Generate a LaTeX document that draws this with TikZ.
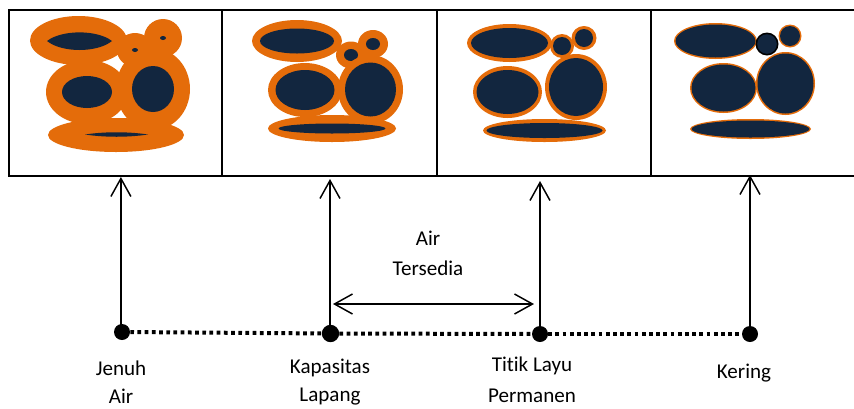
\documentclass[tikz,border=0pt]{standalone}
\usepackage{fontspec}
\setmainfont{Carlito}[Ligatures=NoCommon]
\usetikzlibrary{arrows.meta}
\definecolor{waterfilm}{HTML}{E46C0A}
\definecolor{soilgrain}{HTML}{12263F}
% cx, cy, outer rx, outer ry, inner rx, inner ry; optional colour of the film
\newcommand{\poregrain}[7][waterfilm]{%
  \fill[#1] (#2,#3) ellipse [x radius=#4, y radius=#5];
  \fill[soilgrain] (#2,#3) ellipse [x radius=#6, y radius=#7];
}
\tikzset{
  panelbox/.style={draw=black, line width=1.5pt, fill=none},
  statedot/.style={circle, fill=black, inner sep=0pt, minimum size=12pt},
  risearrow/.style={draw=black, line width=1.2pt, -{Straight Barb[length=13.5pt, width=15pt, line width=1.1pt]}},
  spanarrow/.style={draw=black, line width=1.2pt, {Straight Barb[length=13.5pt, width=15pt, line width=1.1pt]}-{Straight Barb[length=13.5pt, width=15pt, line width=1.1pt]}},
  dotline/.style={draw=black, line width=3pt, dash pattern=on 2.8pt off 2.6pt},
  caption/.style={font=\fontsize{15.8pt}{18pt}\selectfont, inner sep=0pt, align=center, text=black},
}
\begin{document}
\begin{tikzpicture}[x=0.75pt, y=-0.75pt]
\useasboundingbox (0,0) rectangle (854,408);
\clip (0,0) rectangle (854,408);

% Saturated: thick water films around the grains
\poregrain{135}{50}{18}{17}{3}{2}
\poregrain{163}{38}{19}{19}{3}{2}
\poregrain{87}{92}{41}{32}{25}{16}
\poregrain{153}{89}{37}{41}{21}{23}
\fill[waterfilm] (78.5,40.5) ellipse [x radius=48.5, y radius=24.5];
\fill[soilgrain] (47,41) .. controls (62,29.5) and (97,29.5) .. (112,41) .. controls (97,53) and (62,53) .. (47,41) -- cycle;
\fill[waterfilm] (116,135) ellipse [x radius=68, y radius=17];
\fill[soilgrain] (85,134.5) .. controls (105,131.5) and (128,131.5) .. (148,134.5) .. controls (128,137.5) and (105,137.5) .. (85,134.5) -- cycle;

% Field capacity
\poregrain{351}{55}{15}{13.5}{7}{6}
\poregrain{373}{44}{15}{14}{7}{6}
\poregrain{297}{41}{45}{21}{37}{12.5}
\poregrain{305}{90}{37}{27}{29.5}{20}
\poregrain{370.5}{89.5}{32.5}{34.5}{25.5}{27}
\poregrain{332}{128.5}{64}{13.5}{53.5}{5}

% Permanent wilting point
\poregrain{562}{46}{12}{12}{9}{9}
\poregrain{584}{38}{12.5}{12}{9}{9}
\poregrain{509.5}{43}{42.5}{19}{38.5}{15}
\poregrain{507.5}{92}{34.5}{26}{31}{22}
\poregrain{576}{87}{31}{33}{27}{29}
\poregrain{544.5}{130.5}{61.5}{11.5}{58}{7.5}

% Dry: only a trace of film remains
\poregrain{715.5}{41}{41.5}{18}{40}{16.5}
\poregrain{723.5}{88}{33.5}{25}{32}{23.5}
\poregrain{785.5}{83.5}{29.5}{31.5}{28}{30}
\poregrain{750.5}{129}{60.5}{10}{59}{8.5}
\poregrain{790}{36}{11.5}{11.5}{10}{10}
\poregrain[black]{767}{44}{11.5}{11.5}{9.8}{9.8}

% Panel frames
\draw[panelbox] (8.5,9.5) rectangle (222,175.5);
\draw[panelbox] (222,9.5) rectangle (437,175.5);
\draw[panelbox] (437,9.5) rectangle (651,175.5);
\draw[panelbox] (651,9.5) rectangle (860,175.5);

% Moisture states along the axis
\node[statedot] (jenuh) at (122,332) {};
\node[statedot, minimum size=13pt] (kapasitas) at (330.5,333.5) {};
\node[statedot] (layu) at (540,334) {};
\node[statedot] (kering) at (750,334) {};

\draw[dotline] (jenuh) -- (kapasitas);
\draw[dotline] (kapasitas) -- (layu);
\draw[dotline] (layu) -- (kering);

\coordinate (tipjenuh) at (120.9,177);
\coordinate (basejenuh) at (120.9,332);
\coordinate (tipkapasitas) at (330,179);
\coordinate (basekapasitas) at (330,333);
\coordinate (tiplayu) at (540,181);
\coordinate (baselayu) at (540,334);
\coordinate (tipkering) at (750,175);
\coordinate (basekering) at (750,334);
\draw[risearrow] (basejenuh) -- (tipjenuh);
\draw[risearrow] (basekapasitas) -- (tipkapasitas);
\draw[risearrow] (baselayu) -- (tiplayu);
\draw[risearrow] (basekering) -- (tipkering);

\coordinate (spanleft) at (333,304);
\coordinate (spanright) at (534,304);
\draw[spanarrow] (spanleft) -- (spanright);

% Labels
\node[caption] (l1a) at (121,368) {Jenuh};
\node[caption] (l1b) at (121,396) {Air};
\node[caption] (l2a) at (330,368) {Kapasitas};
\node[caption] (l2b) at (330,397) {Lapang};
\node[caption] (l3a) at (532,366) {Titik Layu};
\node[caption] (l3b) at (532,395.5) {Permanen};
\node[caption] (l4) at (744,373) {Kering};
\node[caption] (l5a) at (428,238) {Air};
\node[caption] (l5b) at (428,268) {Tersedia};
\end{tikzpicture}
\end{document}
